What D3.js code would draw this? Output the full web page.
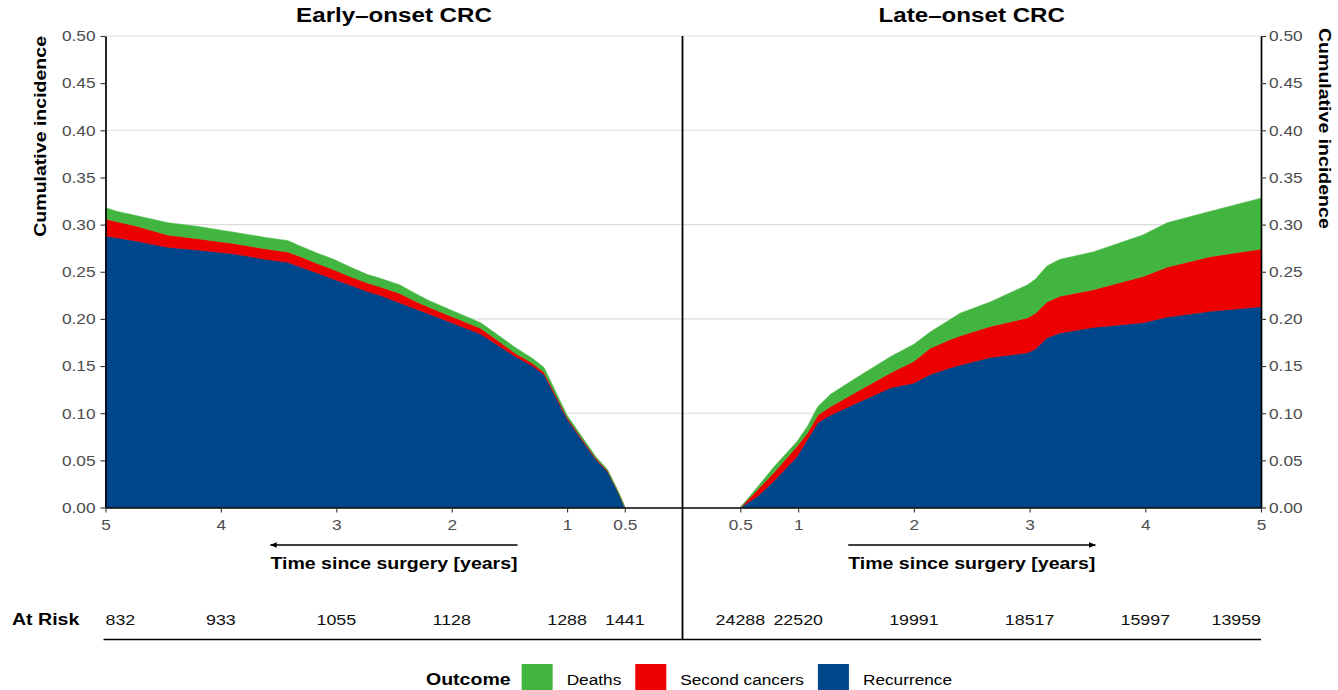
<!DOCTYPE html>
<html><head><meta charset="utf-8">
<script src="https://cdn.jsdelivr.net/npm/d3@7"></script>
<style>body{margin:0;background:#fff} svg{display:block}</style>
</head><body><svg id="c" width="1338" height="690"></svg>
<script>
// ---------------- DATA ----------------
const panelTitles = ["Early\u2013onset CRC", "Late\u2013onset CRC"];
const outcomes = ["Deaths", "Second cancers", "Recurrence"];
const outcomeColors = ["#42B540", "#ED0000", "#00468B"];
const yTicks = [0, 0.05, 0.10, 0.15, 0.20, 0.25, 0.30, 0.35, 0.40, 0.45, 0.50];
const gridTicks = [0.10, 0.20, 0.30, 0.40, 0.50];
const earlyXTicks = [5, 4, 3, 2, 1, 0.5];
const lateXTicks = [0.5, 1, 2, 3, 4, 5];

// Early-onset: cumulative incidence per outcome (not stacked)
const earlyTime       = [0.5, 0.55, 0.6, 0.65, 0.75, 0.88, 1.0, 1.08, 1.2, 1.3, 1.46, 1.6, 1.75, 2.0, 2.19, 2.3, 2.45, 2.62, 2.73, 2.88, 3.02, 3.17, 3.31, 3.42, 3.6, 3.89, 4.2, 4.46, 4.75, 4.9, 5.0];
const earlyRecurrence = [0, 0.014, 0.026, 0.038, 0.051, 0.073, 0.094, 0.113, 0.141, 0.150, 0.161, 0.172, 0.184, 0.196, 0.205, 0.210, 0.217, 0.225, 0.229, 0.236, 0.242, 0.249, 0.255, 0.260, 0.263, 0.269, 0.273, 0.276, 0.283, 0.286, 0.288];
const earlySecond     = [0, 0.0005, 0.0008, 0.001, 0.0012, 0.0015, 0.0017, 0.002, 0.0025, 0.003, 0.0035, 0.005, 0.006, 0.0065, 0.007, 0.008, 0.010, 0.009, 0.009, 0.009, 0.010, 0.010, 0.011, 0.011, 0.011, 0.011, 0.012, 0.013, 0.016, 0.017, 0.018];
const earlyDeaths     = [0, 0.0005, 0.001, 0.0012, 0.0015, 0.002, 0.002, 0.003, 0.005, 0.005, 0.006, 0.006, 0.006, 0.0065, 0.007, 0.008, 0.009, 0.009, 0.009, 0.010, 0.011, 0.011, 0.011, 0.012, 0.012, 0.012, 0.013, 0.013, 0.011, 0.011, 0.012];

// Late-onset
const lateTime       = [0.5, 0.65, 0.79, 0.99, 1.08, 1.17, 1.28, 1.51, 1.8, 2.0, 2.14, 2.31, 2.4, 2.66, 2.98, 3.05, 3.15, 3.26, 3.55, 3.98, 4.19, 4.56, 5.0];
const lateRecurrence = [0, 0.012, 0.028, 0.054, 0.072, 0.090, 0.098, 0.111, 0.127, 0.132, 0.141, 0.148, 0.151, 0.159, 0.164, 0.168, 0.180, 0.185, 0.191, 0.196, 0.202, 0.208, 0.213];
const lateSecond     = [0, 0.007, 0.009, 0.011, 0.007, 0.008, 0.009, 0.012, 0.016, 0.023, 0.028, 0.030, 0.031, 0.033, 0.037, 0.038, 0.038, 0.039, 0.040, 0.049, 0.053, 0.058, 0.061];
const lateDeaths     = [0, 0.003, 0.006, 0.005, 0.007, 0.009, 0.013, 0.015, 0.017, 0.018, 0.017, 0.021, 0.024, 0.026, 0.035, 0.036, 0.038, 0.039, 0.040, 0.044, 0.047, 0.048, 0.054];

// Numbers at risk
const earlyRiskTimes = [5, 4, 3, 2, 1, 0.5];
const earlyAtRisk    = [832, 933, 1055, 1128, 1288, 1441];
const lateRiskTimes  = [0.5, 1, 2, 3, 4, 5];
const lateAtRisk     = [24288, 22520, 19991, 18517, 15997, 13959];

// ---------------- LAYOUT ----------------
const SX = 1.15;
const FONT = "'Liberation Sans', Arial, Helvetica, sans-serif";
const svg = d3.select("#c");
const L = 105.5, M = 682.5, R = 1261, TOP = 36, BOT = 507.5;

const y = d3.scaleLinear().domain([0, 0.5]).range([BOT, TOP]);
const xE = d3.scaleLinear().domain([5, 0]).range([L, M]);
const xL = d3.scaleLinear().domain([0, 5]).range([M, R]);

function label(x, yy, s, o = {}) {
  const t = svg.append("text")
    .attr("transform", `translate(${x},${yy}) rotate(${o.rotate || 0}) scale(${SX},1)`)
    .attr("font-family", FONT)
    .attr("font-size", o.size || 15)
    .attr("font-weight", o.weight || "normal")
    .attr("fill", o.fill || "#000")
    .attr("text-anchor", o.anchor || "middle")
    .text(s);
  return t;
}

// grid
svg.append("g").selectAll("line").data(gridTicks).join("line")
  .attr("x1", L).attr("x2", R)
  .attr("y1", d => y(d)).attr("y2", d => y(d))
  .attr("stroke", "#dcdcdc").attr("stroke-width", 1.1);

// stacked areas
const keys = ["rec", "sec", "dea"];
const keyColor = { rec: outcomeColors[2], sec: outcomeColors[1], dea: outcomeColors[0] };
function drawPanel(times, rec, sec, dea, x) {
  const rows = times.map((t, i) => ({ t, rec: rec[i], sec: sec[i], dea: dea[i] }));
  const series = d3.stack().keys(keys)(rows);
  const area = d3.area().x(d => x(d.data.t)).y0(d => y(d[0])).y1(d => y(d[1])).curve(d3.curveLinear);
  svg.append("g").selectAll("path").data(series).join("path")
    .attr("d", area).attr("fill", d => keyColor[d.key]).attr("stroke", d => keyColor[d.key]).attr("stroke-width", 0.6);
}
drawPanel(earlyTime, earlyRecurrence, earlySecond, earlyDeaths, xE);
drawPanel(lateTime, lateRecurrence, lateSecond, lateDeaths, xL);

// axes
function styleAxis(g) {
  g.select(".domain").attr("stroke", "#000").attr("stroke-width", 1.7);
  g.selectAll(".tick line").attr("stroke", "#333").attr("stroke-width", 1.1);
  g.selectAll(".tick text").attr("font-family", FONT).attr("font-size", 15).attr("fill", "#4d4d4d");
}
const fmtY = d3.format(".2f");
const gyl = svg.append("g").attr("transform", `translate(${L},0)`)
  .call(d3.axisLeft(y).tickValues(yTicks).tickFormat(fmtY).tickSize(5).tickSizeOuter(0));
styleAxis(gyl);
gyl.selectAll(".tick text").attr("x", null).attr("transform", `translate(-10,0) scale(${SX},1)`);
const gyr = svg.append("g").attr("transform", `translate(${R},0)`)
  .call(d3.axisRight(y).tickValues(yTicks).tickFormat(fmtY).tickSize(5).tickSizeOuter(0));
styleAxis(gyr);
gyr.selectAll(".tick text").attr("x", null).attr("transform", `translate(8,0) scale(${SX},1)`);

const fmtX = d3.format("~g");
[[xE, earlyXTicks], [xL, lateXTicks]].forEach(([x, tv]) => {
  const g = svg.append("g").attr("transform", `translate(0,${BOT})`)
    .call(d3.axisBottom(x).tickValues(tv).tickFormat(fmtX).tickSize(5).tickSizeOuter(0).tickPadding(7));
  styleAxis(g);
  g.selectAll(".tick text").attr("x", 0).attr("transform", `scale(${SX},1)`);
});

// centre divider
svg.append("line").attr("x1", M).attr("x2", M).attr("y1", TOP).attr("y2", 640)
  .attr("stroke", "#000").attr("stroke-width", 1.8);

// titles
label((L + M) / 2, 22, panelTitles[0], { size: 21, weight: "bold" });
label((M + R) / 2, 22, panelTitles[1], { size: 21, weight: "bold" });

// y axis titles
label(46, TOP, "Cumulative incidence", { size: 17, weight: "bold", rotate: -90, anchor: "end" });
label(1319, 28, "Cumulative incidence", { size: 17, weight: "bold", rotate: 90, anchor: "start" });

// arrows + x titles
svg.append("defs").append("marker").attr("id", "ah").attr("viewBox", "0 0 10 10")
  .attr("refX", 9).attr("refY", 5).attr("markerWidth", 7).attr("markerHeight", 7)
  .attr("markerUnits", "userSpaceOnUse").attr("orient", "auto")
  .append("path").attr("d", "M0,1 L10,5 L0,9 Z").attr("fill", "#000");
[[(L + M) / 2, -1], [(M + R) / 2, 1]].forEach(([cx, dir]) => {
  const t = label(cx, 569, "Time since surgery [years]", { size: 17, weight: "bold" });
  const w = t.node().getBBox().width * SX;
  const x0 = cx - dir * w / 2, x1 = cx + dir * w / 2;
  svg.append("line").attr("x1", x0).attr("x2", x1).attr("y1", 545).attr("y2", 545)
    .attr("stroke", "#000").attr("stroke-width", 1.5).attr("marker-end", "url(#ah)");
});

// risk table
label(12, 625, "At Risk", { size: 17, weight: "bold", anchor: "start" });
earlyRiskTimes.forEach((t, i) => {
  const anchor = t === 5 ? "start" : "middle";
  label(xE(t), 625, String(earlyAtRisk[i]), { size: 15.5, anchor, fill: "#111" });
});
lateRiskTimes.forEach((t, i) => {
  const anchor = t === 5 ? "end" : "middle";
  label(xL(t), 625, String(lateAtRisk[i]), { size: 15.5, anchor, fill: "#111" });
});
svg.append("line").attr("x1", L - 2).attr("x2", R).attr("y1", 639.5).attr("y2", 639.5)
  .attr("stroke", "#000").attr("stroke-width", 1.7);

// legend
let lx = 426;
const ly = 685;
const lt = label(lx, ly, "Outcome", { size: 17, weight: "bold", anchor: "start" });
lx += lt.node().getBBox().width * SX + 11;
outcomes.forEach((o, i) => {
  svg.append("rect").attr("x", lx).attr("y", 664).attr("width", 31).attr("height", 31).attr("fill", outcomeColors[i]);
  lx += 31 + 14;
  const t = label(lx, ly, o, { size: 15, anchor: "start" });
  lx += t.node().getBBox().width * SX + 14;
});
</script></body></html>
